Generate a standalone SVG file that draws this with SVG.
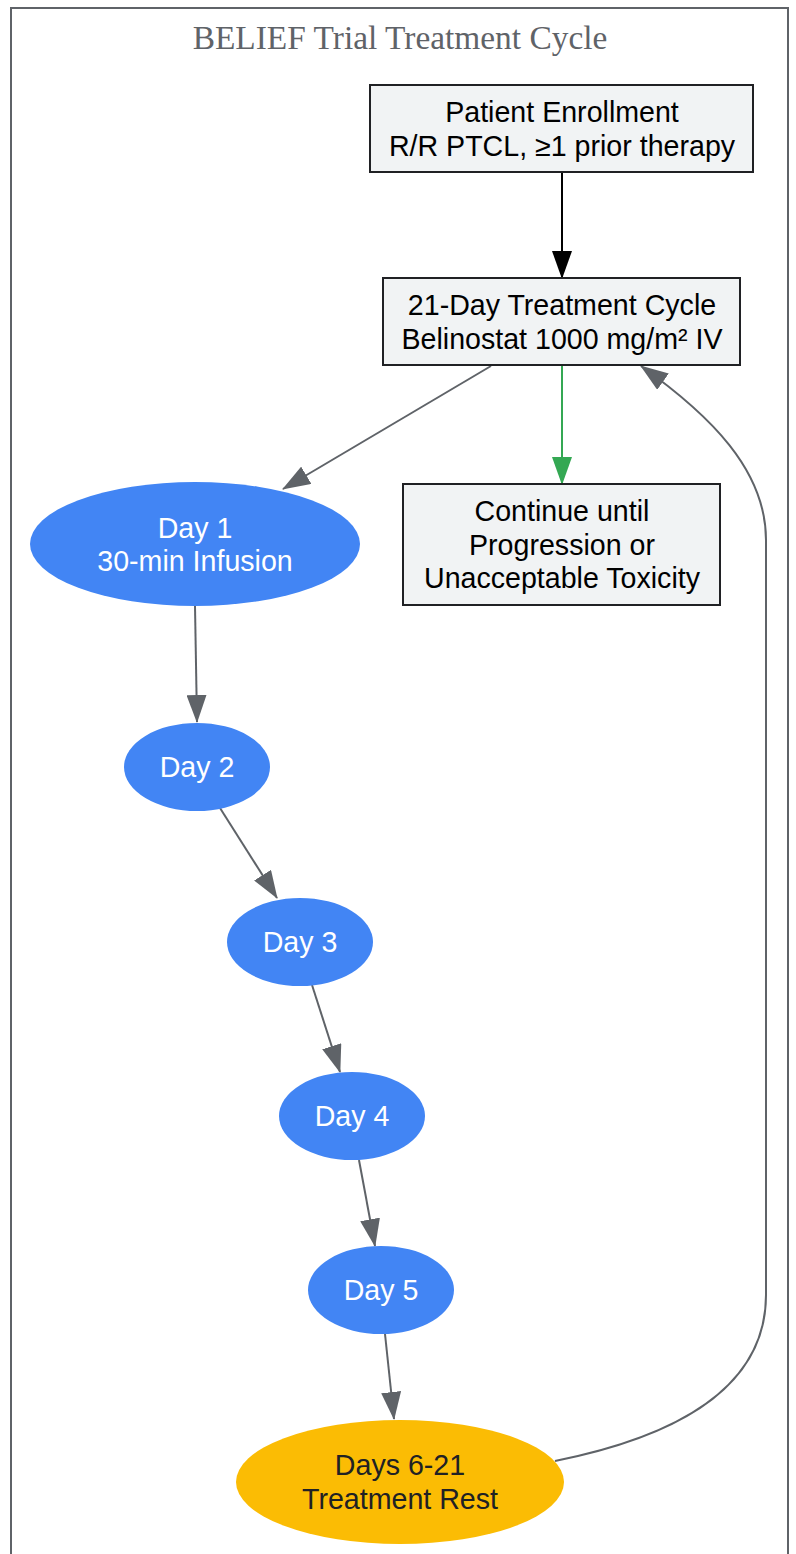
<svg xmlns="http://www.w3.org/2000/svg" width="796" height="1554" viewBox="0 0 796 1554">
<style>
.box{fill:#f1f3f4;stroke:#202124;stroke-width:2}
.day{fill:#4285f4;stroke:none}
.rest{fill:#fbbc04;stroke:none}
.t{font-family:"Liberation Sans",Arial,sans-serif;font-size:28.6px;text-anchor:middle}
.dk{fill:#202124}
.bk{fill:#000000}
.wh{fill:#ffffff}
.e{fill:none;stroke:#5f6368;stroke-width:2}
</style>
<defs>
<marker id="ag" markerUnits="userSpaceOnUse" markerWidth="28" markerHeight="20" refX="27" refY="10" orient="auto" viewBox="0 0 28 20"><path d="M0,0 L28,10 L0,20 z" fill="#5f6368"/></marker>
<marker id="ak" markerUnits="userSpaceOnUse" markerWidth="28" markerHeight="20" refX="27" refY="10" orient="auto" viewBox="0 0 28 20"><path d="M0,0 L28,10 L0,20 z" fill="#000000"/></marker>
<marker id="agr" markerUnits="userSpaceOnUse" markerWidth="28" markerHeight="20" refX="27" refY="10" orient="auto" viewBox="0 0 28 20"><path d="M0,0 L28,10 L0,20 z" fill="#34a853"/></marker>
</defs>
<rect width="796" height="1554" fill="#ffffff"/>
<g id="cluster">
<rect x="11" y="8" width="777" height="1560" fill="none" stroke="#5f6368" stroke-width="2"/>
<text x="400" y="49" font-family="'Liberation Serif','Times New Roman',serif" font-size="33.4" fill="#5f6368" text-anchor="middle">BELIEF Trial Treatment Cycle</text>
</g>
<g id="connectors">
<path d="M562,172 L562,278" fill="none" stroke="#000000" stroke-width="2" marker-end="url(#ak)"/>
<path d="M491,366 L283,489" class="e" marker-end="url(#ag)"/>
<path d="M562,365 L562,484" fill="none" stroke="#34a853" stroke-width="2" marker-end="url(#agr)"/>
<path d="M195,606 L197,722" class="e" marker-end="url(#ag)"/>
<path d="M220,808 L277,898" class="e" marker-end="url(#ag)"/>
<path d="M312,985 L340,1072" class="e" marker-end="url(#ag)"/>
<path d="M359,1160 L375,1246" class="e" marker-end="url(#ag)"/>
<path d="M385,1334 L394,1419" class="e" marker-end="url(#ag)"/>
<path d="M555,1461 C650,1442 766,1400 766,1295 L766,540 C766,470 710,415 641,366" class="e" marker-end="url(#ag)"/>
</g>
<g id="enroll">
<rect class="box" x="370" y="85" width="383" height="87"/>
<text class="t bk" x="562" y="122">Patient Enrollment</text>
<text class="t bk" x="562" y="156">R/R PTCL, ≥1 prior therapy</text>
</g>
<g id="cycle">
<rect class="box" x="383" y="278" width="357" height="87"/>
<text class="t bk" x="562" y="315">21-Day Treatment Cycle</text>
<text class="t bk" x="562" y="349">Belinostat 1000 mg/m² IV</text>
</g>
<g id="continue">
<rect class="box" x="403" y="484" width="317" height="121"/>
<text class="t bk" x="562" y="521">Continue until</text>
<text class="t bk" x="562" y="555">Progression or</text>
<text class="t bk" x="562" y="588">Unacceptable Toxicity</text>
</g>
<g id="day1">
<ellipse class="day" cx="195" cy="544" rx="165" ry="62"/>
<text class="t wh" x="195" y="538">Day 1</text>
<text class="t wh" x="195" y="571">30-min Infusion</text>
</g>
<g id="day2">
<ellipse class="day" cx="197" cy="767" rx="73" ry="44"/>
<text class="t wh" x="197" y="777">Day 2</text>
</g>
<g id="day3">
<ellipse class="day" cx="300" cy="942" rx="73" ry="44"/>
<text class="t wh" x="300" y="952">Day 3</text>
</g>
<g id="day4">
<ellipse class="day" cx="352" cy="1116" rx="73" ry="44"/>
<text class="t wh" x="352" y="1126">Day 4</text>
</g>
<g id="day5">
<ellipse class="day" cx="381" cy="1290" rx="73" ry="44"/>
<text class="t wh" x="381" y="1300">Day 5</text>
</g>
<g id="rest">
<ellipse class="rest" cx="400" cy="1482" rx="164" ry="62"/>
<text class="t dk" x="400" y="1475">Days 6-21</text>
<text class="t dk" x="400" y="1509">Treatment Rest</text>
</g>
</svg>
